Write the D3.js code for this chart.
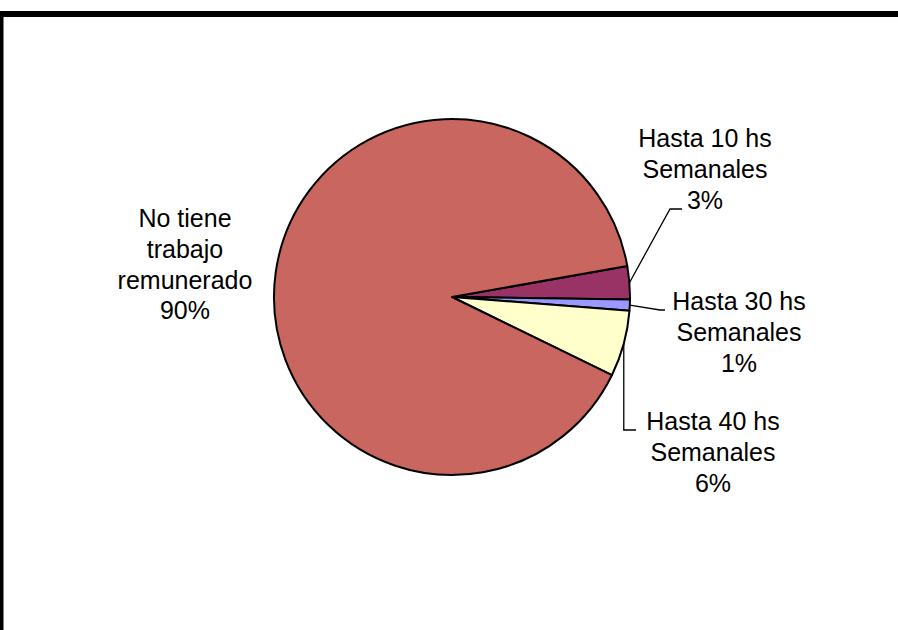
<!DOCTYPE html>
<html>
<head>
<meta charset="utf-8">
<script src="https://cdn.jsdelivr.net/npm/d3@7"></script>
<style>
  html, body { margin: 0; padding: 0; background: #fff; }
  svg { display: block; }
  text { font-family: "Liberation Sans", Arial, sans-serif; fill: #000; }
</style>
</head>
<body>
<svg id="chart" width="898" height="630"></svg>
<script>
// ---- data ----
const categories = ["Hasta 10 hs Semanales", "Hasta 30 hs Semanales", "Hasta 40 hs Semanales", "No tiene trabajo remunerado"];
const values = [3, 1, 6, 90];
const labelLines = [["Hasta 10 hs", "Semanales"], ["Hasta 30 hs", "Semanales"], ["Hasta 40 hs", "Semanales"], ["No tiene", "trabajo", "remunerado"]];
const percentLabels = ["3%", "1%", "6%", "90%"];
const colors = ["#993366", "#9999FF", "#FFFFCC", "#C9665F"];

// ---- layout ----
const W = 898, H = 630;
const cx = 452, cy = 297, R = 178;
const startDeg = 80;
const fontSize = 25;
const lineH = 30.8;
// label anchor (center x, first baseline y) and leader elbow points
const labelPos = [
  { x: 705, y: 147, elbow: [[670, 209], [682, 209]] },
  { x: 739, y: 310, elbow: [[660, 310], [665, 310]] },
  { x: 713, y: 430, elbow: null, elbowDown: [[0, 430], [636, 430]] },
  { x: 185, y: 227, elbow: null }
];

const svg = d3.select("#chart");

// frame
svg.append("rect")
  .attr("x", 0.5).attr("y", 14)
  .attr("width", 1200).attr("height", 1200)
  .attr("fill", "none").attr("stroke", "#000").attr("stroke-width", 6);

const pie = d3.pie().sort(null).value(d => d)
  .startAngle(startDeg * Math.PI / 180)
  .endAngle(startDeg * Math.PI / 180 + 2 * Math.PI);
const arcs = pie(values);
const arc = d3.arc().innerRadius(0).outerRadius(R);

const g = svg.append("g").attr("transform", `translate(${cx},${cy})`);
g.selectAll("path.slice").data(arcs).enter().append("path")
  .attr("class", "slice")
  .attr("d", arc)
  .attr("fill", (d, i) => colors[i])
  .attr("stroke", "#000").attr("stroke-width", 2).attr("stroke-linejoin", "round");

// leader lines
function edgePoint(d) {
  const a = (d.startAngle + d.endAngle) / 2;
  return [cx + R * Math.sin(a), cy - R * Math.cos(a)];
}
arcs.forEach((d, i) => {
  const p0 = edgePoint(d);
  const lp = labelPos[i];
  let pts = null;
  if (lp.elbow) pts = [p0, ...lp.elbow];
  else if (lp.elbowDown) pts = [p0, [p0[0], lp.elbowDown[0][1]], lp.elbowDown[1]];
  if (pts) {
    svg.append("path")
      .attr("d", d3.line()(pts))
      .attr("fill", "none").attr("stroke", "#000").attr("stroke-width", 1.3);
  }
});

// labels
arcs.forEach((d, i) => {
  const lp = labelPos[i];
  const lines = labelLines[i].concat([percentLabels[i]]);
  const t = svg.append("text")
    .attr("text-anchor", "middle")
    .attr("font-size", fontSize);
  lines.forEach((ln, k) => {
    t.append("tspan").attr("x", lp.x).attr("y", lp.y + k * lineH).text(ln);
  });
});
</script>
</body>
</html>
